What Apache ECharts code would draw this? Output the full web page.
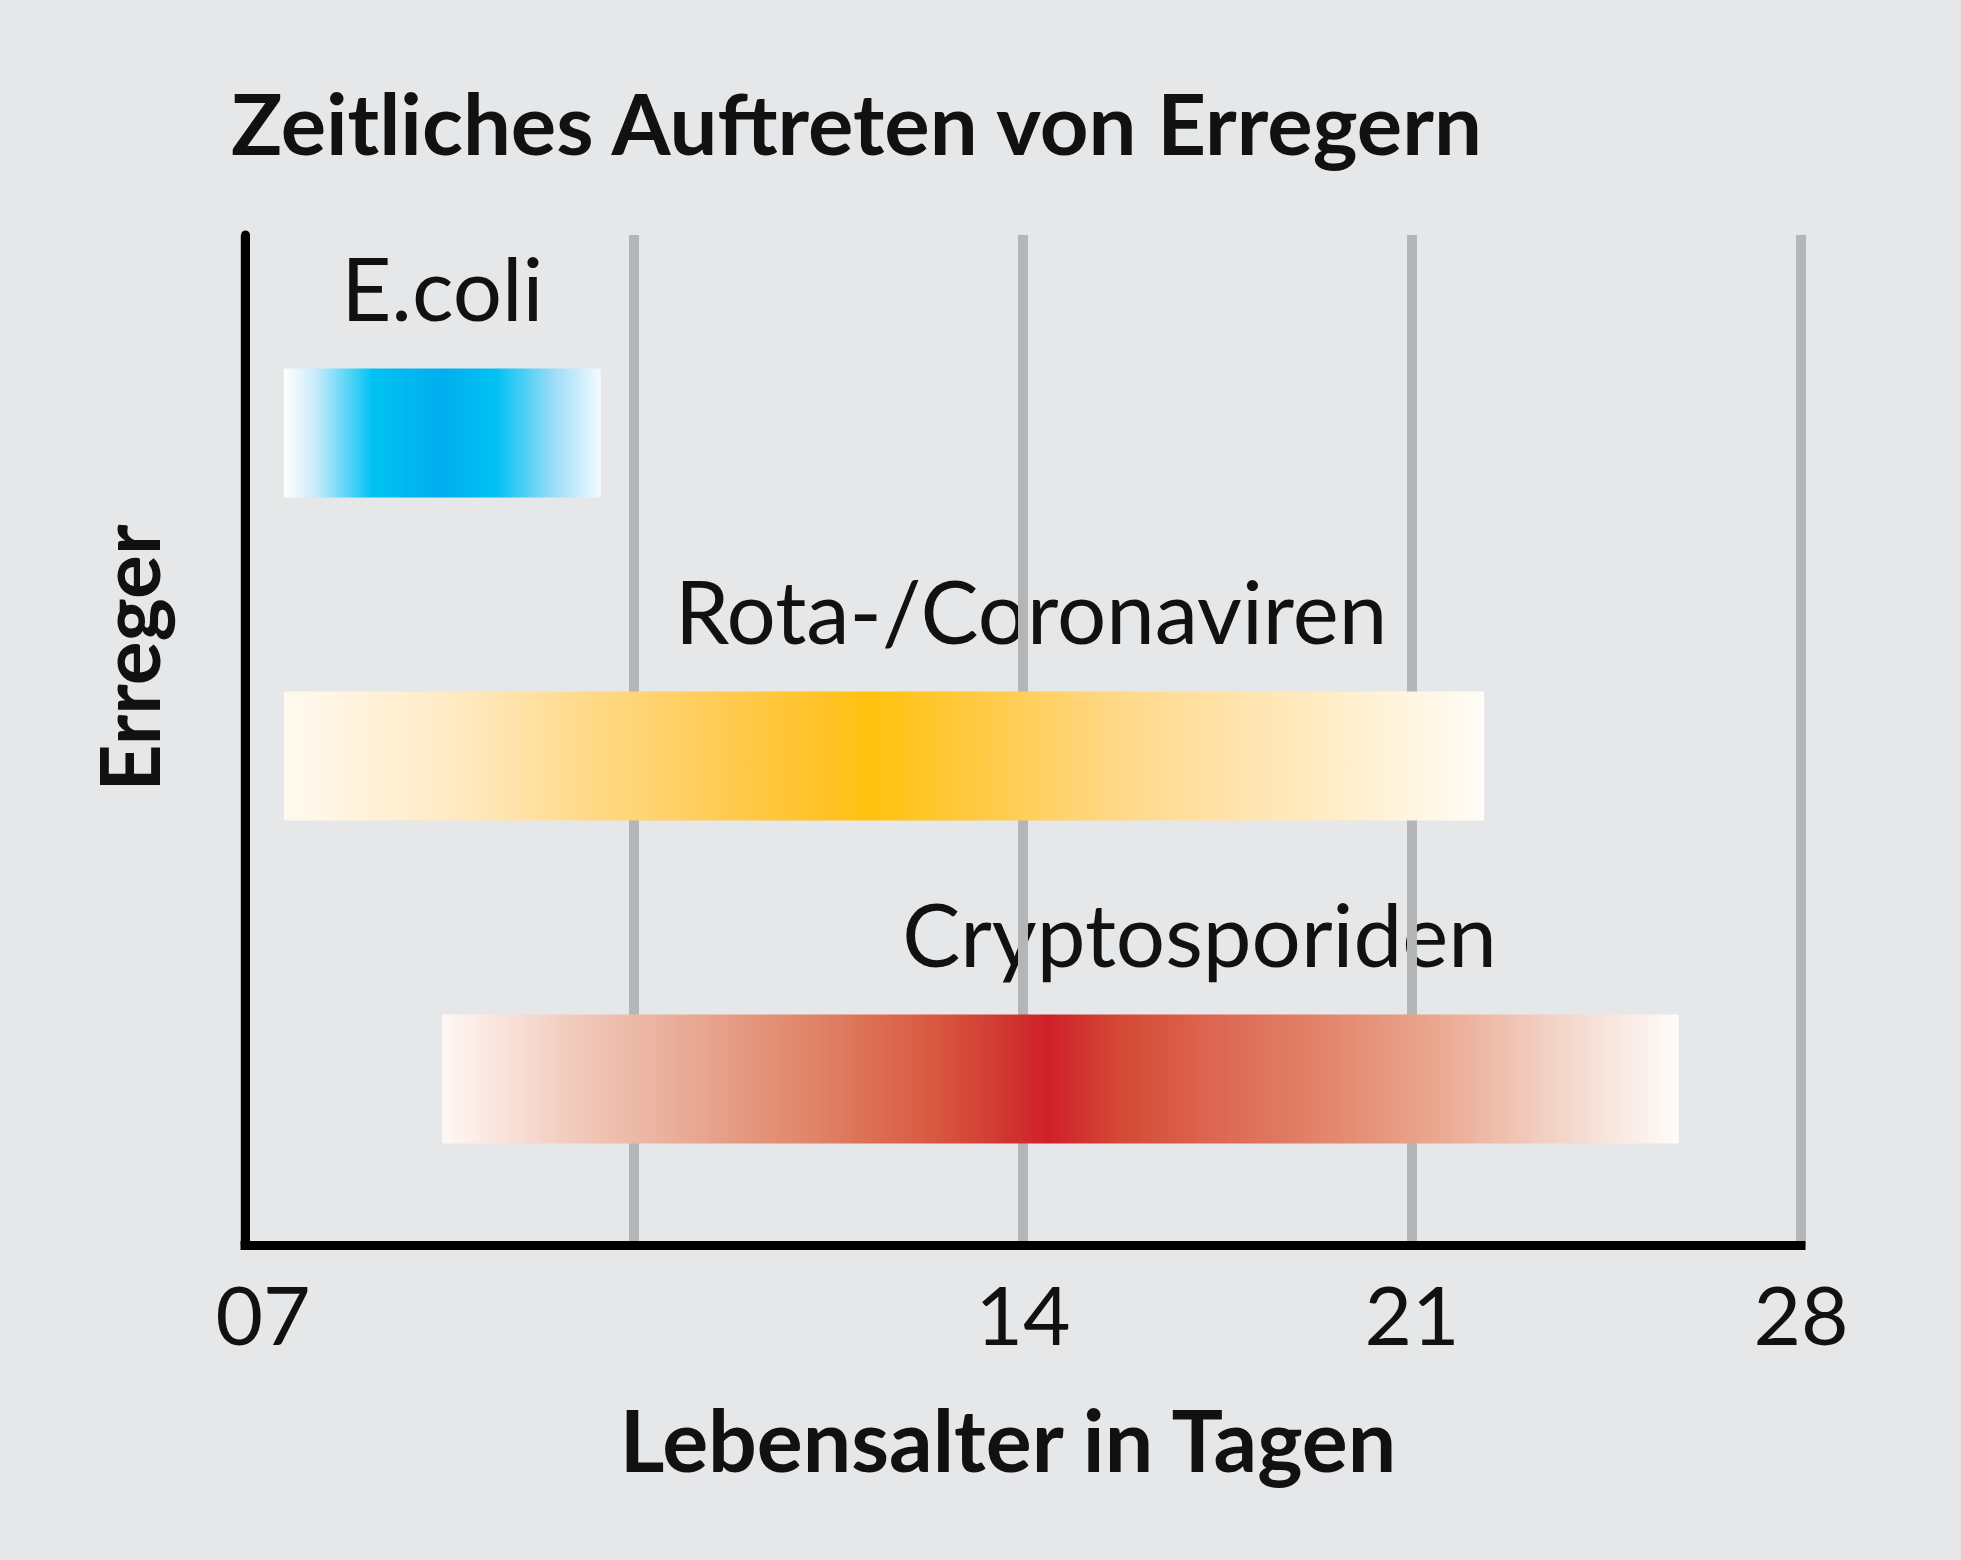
<!DOCTYPE html>
<html>
<head>
<meta charset="utf-8">
<script src="https://cdn.jsdelivr.net/npm/echarts@6/dist/echarts.min.js"></script>
<style>
html,body{margin:0;padding:0;background:#e6e7e9;}
#chart{width:1961px;height:1560px;}
</style>
</head>
<body>
<div id="chart"></div>
<script>
// ---- data ----
const categories = ['E.coli', 'Rota-/Coronaviren', 'Cryptosporiden'];
const startDays = [0.7, 0.7, 3.55];
const endDays = [6.4, 22.3, 25.8];
const xTickValues = [0, 7, 14, 21, 28];
const xTickLabels = ['07', '', '14', '21', '28'];
const titleText = 'Zeitliches Auftreten von Erregern';
const xAxisTitle = 'Lebensalter in Tagen';
const yAxisTitle = 'Erreger';

// ---- styles ----
const FONT = 'Lato';
const gradients = [
  [[0,'#ffffff'],[0.1,'#c9ecfb'],[0.28,'#00c2f3'],[0.5,'#00aeef'],[0.67,'#00c2f3'],[0.85,'#9bdcf7'],[1,'#f3fbff']],
  [[0,'#fffaf0'],[0.15,'#ffe9c0'],[0.25,'#ffda8a'],[0.35,'#ffcd5a'],[0.45,'#ffc226'],[0.49,'#ffc20e'],[0.6,'#ffcc50'],[0.7,'#ffd98a'],[0.85,'#ffeabf'],[1,'#fffdf8']],
  [[0,'#fff8f4'],[0.1,'#f2cdbf'],[0.2,'#e9a994'],[0.3,'#e08468'],[0.4,'#d9573f'],[0.45,'#d03a32'],[0.49,'#cf2029'],[0.55,'#d54a35'],[0.62,'#dc6550'],[0.7,'#e28068'],[0.8,'#eaa68e'],[0.9,'#f3d3c6'],[1,'#fffcfa']]
];
const labelOffsetX = [0, 147, 139];
const labelGap = 37;

const barData = categories.map((c, i) => [i, startDays[i], endDays[i]]);

const chart = echarts.init(document.getElementById('chart'), null, {renderer: 'svg'});
chart.setOption({
  backgroundColor: '#e6e7e9',
  animation: false,
  title: {
    text: titleText,
    left: 226, top: 74,
    textStyle: {fontFamily: FONT, fontWeight: 'bold', fontSize: 85, color: '#111'}
  },
  grid: {left: 245, right: 160, top: 235, bottom: 315},
  xAxis: {
    type: 'value', min: 0, max: 28, interval: 7,
    axisLine: {show: true, onZero: false, lineStyle: {color: '#000', width: 9, cap: 'square'}},
    axisTick: {show: false},
    splitLine: {show: true, lineStyle: {color: '#b4b5b7', width: 10}},
    axisLabel: {
      margin: 27,
      fontFamily: FONT, fontSize: 82, color: '#111',
      formatter: function (v) {
        const k = xTickValues.indexOf(v);
        const t = k >= 0 ? xTickLabels[k] : '';
        return v === 0 ? '{a|' + t + '}' : t;
      },
      rich: {a: {fontFamily: FONT, fontSize: 82, color: '#111', padding: [0, 0, 0, 36]}}
    },
    name: xAxisTitle,
    nameLocation: 'middle',
    nameGap: 150,
    nameTextStyle: {fontFamily: FONT, fontWeight: 'bold', fontSize: 86, color: '#111', padding: [0, 30, 0, 0]}
  },
  yAxis: {
    type: 'value', min: -0.613, max: 2.514, inverse: true,
    z: 5,
    axisLine: {show: true, onZero: false, lineStyle: {color: '#000', width: 9}},
    axisTick: {show: false},
    axisLabel: {show: false},
    splitLine: {show: false}
  },
  graphic: [{
    type: 'text',
    x: 128, y: 658,
    rotation: Math.PI / 2,
    style: {text: yAxisTitle, fontFamily: FONT, fontWeight: 'bold', fontSize: 82, fill: '#111', align: 'center', verticalAlign: 'middle'}
  }],
  series: [
    {
      type: 'custom',
      z: -1,
      data: barData,
      encode: {x: [1, 2], y: 0},
      renderItem: function (params, api) {
        const i = api.value(0);
        const s = api.coord([api.value(1), i]);
        const e = api.coord([api.value(2), i]);
        const h = api.size([0, 0.4])[1];
        return {
          type: 'text',
          style: {
            text: categories[i],
            x: (s[0] + e[0]) / 2 + labelOffsetX[i],
            y: s[1] - h / 2 - labelGap,
            align: 'center', verticalAlign: 'bottom',
            fontFamily: FONT, fontSize: 87, fill: '#111'
          }
        };
      }
    },
    {
      type: 'custom',
      z: 3,
      data: barData,
      encode: {x: [1, 2], y: 0},
      renderItem: function (params, api) {
        const i = api.value(0);
        const s = api.coord([api.value(1), i]);
        const e = api.coord([api.value(2), i]);
        const h = api.size([0, 0.4])[1];
        return {
          type: 'rect',
          shape: {x: s[0], y: s[1] - h / 2, width: e[0] - s[0], height: h},
          style: {fill: new echarts.graphic.LinearGradient(0, 0, 1, 0, gradients[i].map(g => ({offset: g[0], color: g[1]})))}
        };
      }
    }
  ]
});
</script>
</body>
</html>
